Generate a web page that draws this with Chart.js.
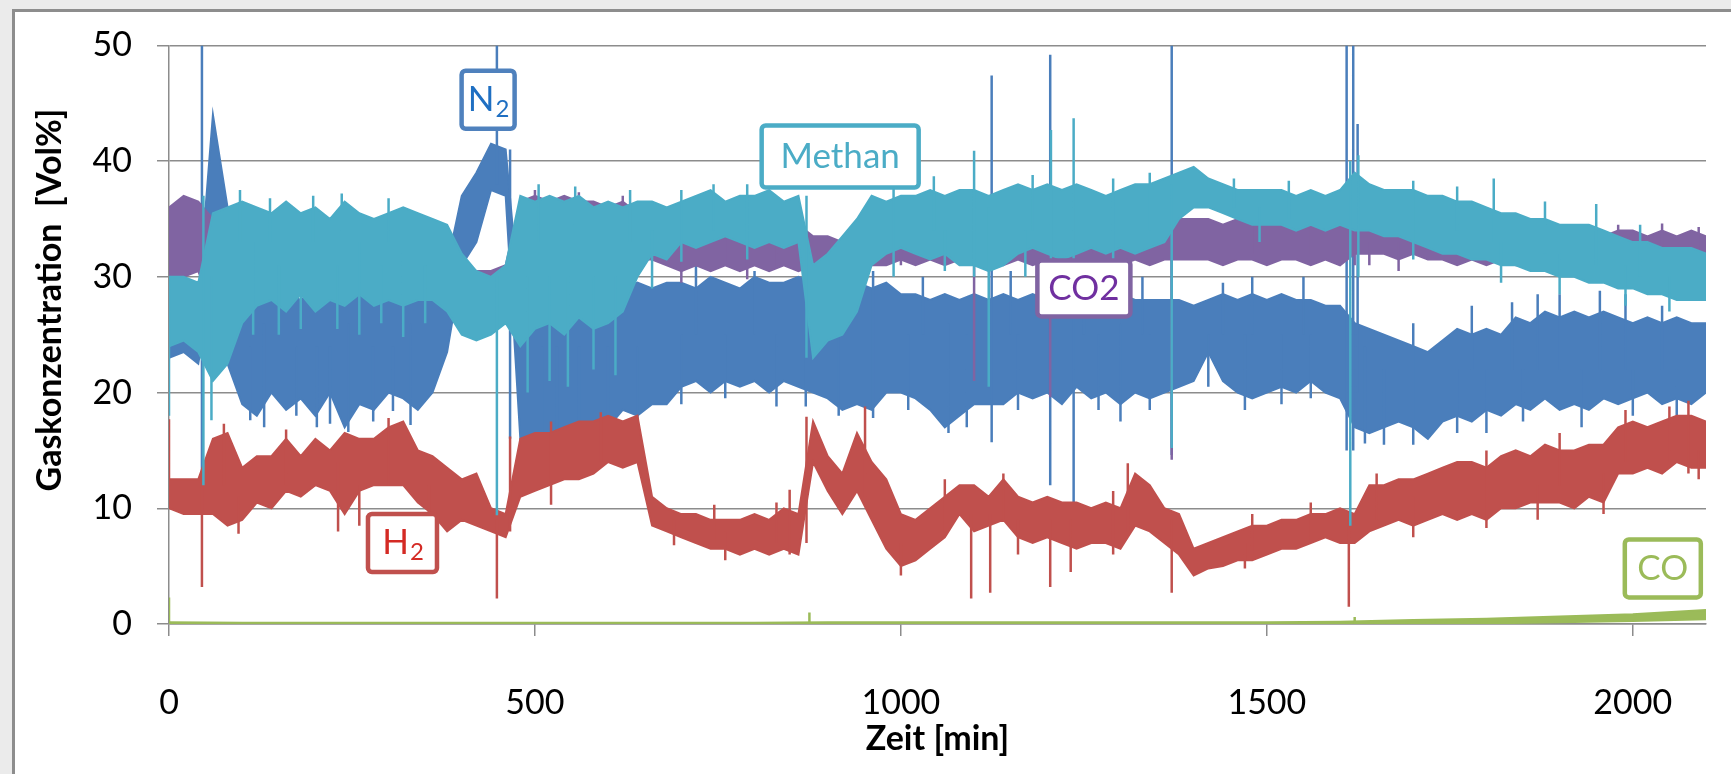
<!DOCTYPE html>
<html lang="de">
<head>
<meta charset="utf-8">
<title>Gaskonzentration</title>
<script src="https://cdn.jsdelivr.net/npm/chart.js@4.4.1/dist/chart.umd.min.js"></script>
<style>
  html, body { margin: 0; padding: 0; background: #ebebeb; overflow: hidden; }
  .frame {
    position: absolute; left: 12px; top: 9px; width: 1760px; height: 800px;
    background: #fff; border-left: 3px solid #8d8d8d; border-top: 3px solid #8d8d8d;
  }
  #gasChart { position: absolute; left: 0; top: 0; }
</style>
</head>
<body>
<div class="frame"></div>
<canvas id="gasChart" width="1731" height="774"></canvas>
<script>
function getElement(id) {
  return document.getElementById(id);
}

// Data, time in min, values in Vol%

const zeit = [
  0, 20, 40, 60, 80, 100, 120, 140, 160, 180,
  200, 220, 240, 260, 280, 300, 320, 340, 360, 380,
  400, 420, 440, 460, 480, 500, 520, 540, 560, 580,
  600, 620, 640, 660, 680, 700, 720, 740, 760, 780,
  800, 820, 840, 860, 880, 900, 920, 940, 960, 980,
  1000, 1020, 1040, 1060, 1080, 1100, 1120, 1140, 1160, 1180,
  1200, 1220, 1240, 1260, 1280, 1300, 1320, 1340, 1360, 1380,
  1400, 1420, 1440, 1460, 1480, 1500, 1520, 1540, 1560, 1580,
  1600, 1620, 1640, 1660, 1680, 1700, 1720, 1740, 1760, 1780,
  1800, 1820, 1840, 1860, 1880, 1900, 1920, 1940, 1960, 1980,
  2000, 2020, 2040, 2060, 2080, 2100,
];

// upper / lower edge of each noisy band
const methanMax = [
  30, 30, 29.5, 35.5, 36, 36.5, 36, 35.5, 36.5, 35.5,
  36, 35, 36.5, 35.5, 35, 35.5, 36, 35.5, 35, 34.5,
  32, 30.5, 30, 31, 37, 36.5, 37, 36.5, 37, 36,
  36.5, 36, 36.5, 36.5, 36, 36.5, 37, 37.5, 36.5, 37,
  37, 37.5, 36.5, 37, 31, 32, 33.5, 35, 37, 36.5,
  37, 37, 37.5, 37, 37.5, 37.5, 37, 37.5, 38, 37.5,
  38, 37.5, 38, 37.5, 37, 37.5, 38, 38, 38.5, 39,
  39.5, 38.5, 38, 37.5, 37.5, 37.5, 37.5, 37, 37.5, 37,
  37.5, 39, 38, 37.5, 37.5, 37.5, 37, 37, 36.5, 36.5,
  36, 35.5, 35.5, 35, 35, 34.5, 34.5, 34.5, 34, 33.5,
  33, 33, 32.5, 32.5, 32.5, 32,
];
const methanMin = [
  24, 24.5, 23.5, 21, 22.5, 26, 27.5, 28, 27, 28.5,
  27, 28, 27.5, 28.5, 27.5, 28, 27.5, 28, 28, 27,
  25, 24.5, 25, 26, 24, 25.5, 26, 25, 26.5, 25.5,
  26, 27, 30, 32, 31.5, 33, 32.5, 33, 33.5, 33,
  32.5, 33, 32.5, 33, 23, 24.5, 25, 27, 31, 32,
  32.5, 32, 31.5, 32, 31, 31, 30.5, 31, 32, 32.5,
  32, 31.5, 32, 32.5, 32, 32.5, 32, 32.5, 33, 35,
  36, 36, 35.5, 35, 34.5, 34.5, 34.5, 34, 34.5, 34,
  34.5, 34, 34, 33.5, 33.5, 33, 32.5, 32, 32, 31.5,
  31.5, 31, 31, 30.5, 30.5, 30, 30, 29.5, 29.5, 29,
  29, 28.5, 28.5, 28, 28, 28,
];

const co2Max = [
  36, 37, 36.5, 35, 35, 34.5, 35, 34.5, 35, 34.5,
  35, 34.5, 34, 34.5, 34.5, 34, 34.5, 34, 34, 33,
  31, 30.5, 30.5, 31, 36.5, 37, 36.5, 37, 36.5, 36.5,
  36, 36.5, 35.5, 34, 34, 34.5, 34, 34.5, 34, 34.5,
  34, 34.5, 34, 34.5, 33.5, 33.5, 33, 33.5, 34, 34.5,
  34, 34.5, 34, 34.5, 34, 35, 34, 34.5, 34, 34.5,
  34.5, 34, 34.5, 34, 34.5, 34, 34.5, 34.5, 34, 35,
  35, 35, 34.5, 35, 34.5, 35, 34.5, 35, 34.5, 35,
  34.5, 36, 35, 34, 33.5, 34, 33.5, 34, 33.5, 34,
  33.5, 34, 33.5, 33.5, 34, 33.5, 34, 34, 33.5, 34,
  34, 33.5, 34, 33.5, 34, 33.5,
];
const co2Min = [
  30, 30, 30.5, 27, 29, 29.5, 30, 29.5, 30, 30,
  29.5, 30, 30, 29.5, 30, 30.5, 30, 29.5, 29, 28,
  27, 26.5, 26, 26.5, 32, 32.5, 32, 32.5, 32, 32.5,
  32, 32, 31.5, 31.5, 31, 30.5, 31, 30.5, 31, 30.5,
  31, 30.5, 31, 30.5, 31, 31, 31.5, 31, 31, 31,
  31.5, 31, 31.5, 31, 31.5, 31, 31.5, 31, 31.5, 31,
  31.5, 31, 31.5, 31, 31.5, 31, 31.5, 31, 31.5, 31.5,
  31.5, 31.5, 31, 31.5, 31.5, 31, 31.5, 31.5, 31, 31.5,
  31, 32, 32, 32, 31.5, 32, 31.5, 31.5, 31, 31.5,
  31, 31.5, 31, 31, 31.5, 31, 31.5, 31, 31.5, 31,
  31.5, 31, 31.5, 31, 31.5, 31,
];

const n2Max = [
  28, 28.5, 28, 44, 36, 28, 29, 28, 28.5, 28,
  29, 28, 29, 28.5, 29, 28, 29, 28.5, 29, 31,
  37, 39, 41.5, 41, 27, 27.5, 27, 28, 27.5, 28.5,
  29, 29, 29.5, 29, 29.5, 29.5, 29, 30, 29.5, 29,
  30, 29.5, 29.5, 30, 29.5, 29, 30, 29.5, 29, 29.5,
  28.5, 28.5, 28, 28.5, 28, 28.5, 28, 28.5, 28, 28.5,
  28, 28.5, 28, 28.5, 28, 28.5, 28, 28, 28, 28,
  27.5, 28, 28.5, 28, 28.5, 28, 28.5, 28, 28, 27.5,
  27.5, 26, 25.5, 25, 24.5, 24, 23.5, 24.5, 25.5, 25,
  25.5, 25, 26.5, 26, 27, 26.5, 27, 26.5, 27, 26.5,
  26, 26.5, 26, 26.5, 26, 26,
];
const n2Min = [
  23, 23.5, 22.5, 30, 22.5, 19, 18, 20, 18.5, 19.5,
  18, 20, 17, 19, 18.5, 20, 19.5, 18.5, 20, 23.5,
  31, 33, 37.5, 37, 16, 16.5, 16, 17, 16.5, 17.5,
  17, 18.5, 18, 19, 19, 20.5, 21, 20, 21, 20.5,
  21, 20, 21, 20.5, 20, 19.5, 18.5, 19, 18.5, 20,
  20, 19.5, 18.5, 17, 18, 19, 19, 19, 20, 19.5,
  20, 19, 20.5, 19.5, 20, 19, 20, 19.5, 20, 20.5,
  21, 23.5, 21, 20, 19.5, 20, 20.5, 20, 21, 20,
  19.5, 17, 16.5, 17, 17.5, 17, 16, 17.5, 18, 17.5,
  18.5, 18, 19, 18.5, 19.5, 18.5, 19, 18.5, 19.5, 19,
  19.5, 20, 19, 19.5, 19, 20,
];

const h2Max = [
  12.5, 12.5, 12.5, 16, 16.5, 13.5, 14.5, 14.5, 16, 14.5,
  16, 15, 16.5, 16, 16, 17, 17.5, 15, 14.5, 13.5,
  12.5, 13, 10, 9.5, 16, 16.5, 16.5, 17, 17.5, 17.5,
  18, 17.5, 18, 11, 10, 9.5, 9.5, 9, 9, 9,
  9.5, 9, 10, 9.5, 17.5, 14.5, 13, 16.5, 14, 12.5,
  9.5, 9, 10, 11, 12, 12, 11, 12.5, 11, 10.5,
  11, 10.5, 10.5, 10, 10.5, 10, 13, 12, 10, 9.5,
  6.5, 7, 7.5, 8, 8.5, 8.5, 9, 9, 9.5, 9.5,
  10, 9.5, 12, 12, 12.5, 12.5, 13, 13.5, 14, 14,
  13.5, 14.5, 15, 14.5, 15.5, 15, 15, 15.5, 15.5, 17,
  17.5, 17, 17.5, 18, 18, 17.5,
];
const h2Min = [
  10, 9.5, 9.5, 9.5, 8.5, 9, 10.5, 10, 11.5, 11,
  12, 11.5, 9.5, 11.5, 12, 12, 12, 10.5, 9.5, 8,
  9, 8.5, 8, 7.5, 11, 11.5, 12, 12.5, 12.5, 13,
  14, 13.5, 14, 8.5, 8, 7.5, 7, 6.5, 6.5, 6,
  6.5, 6, 6.5, 6, 14, 11.5, 9.5, 11.5, 9, 6.5,
  5, 5.5, 6.5, 7.5, 9.5, 8, 8.5, 9, 7.5, 7,
  7.5, 7, 6.5, 7, 7, 6.5, 8.5, 8, 7, 6,
  4.2, 4.8, 5, 5.5, 5.5, 6, 6.5, 6.5, 7, 7.5,
  7, 7, 8, 8.5, 9, 8.5, 9, 9.5, 9, 9.5,
  9, 10, 10, 10.5, 10.5, 10.5, 10, 11, 10.5, 13,
  13, 13.5, 13, 14, 13.5, 13.5,
];

const coZeit = [
  0, 100, 200, 300, 400, 500, 600, 700, 800, 900, 1000,
  1100, 1200, 1300, 1400, 1500, 1600, 1700, 1800, 1900, 2000, 2100,
];
const coMax = [
  0.15, 0.1, 0.1, 0.1, 0.1, 0.1, 0.1, 0.1, 0.1, 0.15, 0.15,
  0.15, 0.15, 0.15, 0.15, 0.15, 0.2, 0.35, 0.45, 0.65, 0.85, 1.2,
];
const coMin = [
  -0.15, -0.15, -0.15, -0.15, -0.15, -0.15, -0.15, -0.15, -0.15, -0.1, -0.1,
  -0.1, -0.1, -0.1, -0.1, -0.1, -0.1, 0, 0.05, 0.15, 0.25, 0.4,
];

// single outliers / needles: time, from, to
const methanSpikeZeit = [
  0, 47, 58, 97, 115, 138, 150, 180, 197, 230,
  236, 260, 290, 300, 320, 350, 448, 490, 505, 520,
  545, 555, 580, 610, 630, 660, 700, 744, 790, 871,
  990, 1045, 1060, 1100, 1120, 1170, 1180, 1205, 1236, 1290,
  1340, 1370, 1455, 1490, 1530, 1614, 1625, 1700, 1760, 1810,
  1820, 1880, 1900, 1950, 1990, 2010, 2050,
];
const methanSpikeVon = [
  18, 12, 17.6, 33, 25, 33, 25, 25.5, 33, 25.5,
  33, 25, 26, 33, 24.8, 26, 9.4, 20, 33, 21,
  20.5, 33, 22, 21.5, 33, 29, 31.3, 34, 31.5, 23,
  30, 34, 30.5, 30, 20.5, 30, 34, 30, 30, 30.5,
  34, 15.2, 36, 33, 35, 8.5, 30, 31.5, 34, 33,
  29.5, 32, 28.5, 31, 27.5, 30, 27,
];
const methanSpikeBis = [
  30, 37, 30, 37.5, 33, 36.8, 31, 33, 37, 31,
  37.2, 33, 31, 36.8, 33, 31, 30, 30, 38, 30,
  30, 37.8, 30, 30, 37.5, 34, 37.5, 38, 38, 37,
  38.5, 38.7, 34, 40.9, 36, 34, 38.8, 42.7, 43.7, 38.5,
  39, 38, 38.5, 36, 38.3, 40, 40.5, 38.3, 37.8, 38.5,
  33, 36.5, 32, 36.3, 31, 34.5, 30,
];

const co2SpikeZeit = [500, 560, 620, 700, 760, 790, 830, 1000, 1100, 1150, 1204, 1260, 1330, 1370, 1480, 1560, 1620, 1640, 1680, 1980, 2040, 2090];
const co2SpikeVon = [33, 33, 33, 29.5, 31, 29.8, 31, 31, 21, 32, 19.6, 32, 32, 14.2, 32, 32, 31, 31, 30.5, 32, 32, 32];
const co2SpikeBis = [37.5, 37.3, 37, 35, 35.2, 32, 35, 35, 35.3, 35.2, 32, 35, 35.2, 33, 35.5, 35.5, 36.3, 33, 33, 34.5, 34.6, 34.3];

const n2SpikeZeit = [
  45, 111, 130, 174, 202, 220, 245, 279, 306, 330,
  448, 466, 510, 530, 560, 600, 640, 700, 720, 760,
  800, 830, 870, 900, 915, 962, 1010, 1030, 1065, 1090,
  1124, 1150, 1160, 1204, 1236, 1250, 1270, 1300, 1330, 1340,
  1370, 1420, 1440, 1470, 1480, 1520, 1550, 1560, 1609, 1618,
  1624, 1634, 1660, 1700, 1760, 1780, 1800, 1835, 1850, 1870,
  1900, 1930, 1955, 1990, 2000, 2040, 2060,
];
const n2SpikeVon = [
  12, 17.6, 17, 18, 17, 17.3, 16.6, 17.5, 18.4, 17.2,
  38, 16, 15.4, 15.2, 15.5, 16, 16.8, 19, 25, 19.5,
  25, 18.8, 18.8, 25, 18, 17.8, 18.5, 25, 16.5, 17,
  15.7, 25, 18.5, 12, 10, 25, 18.5, 17.5, 25, 18.5,
  14.6, 20.5, 25, 18.5, 25, 19, 25, 19.5, 15, 15,
  20, 15.6, 15.5, 15.5, 16.5, 22, 16.5, 22, 17.5, 22,
  22, 17, 22, 22, 18, 22, 18,
];
const n2SpikeBis = [
  50, 24, 26, 24, 24, 24, 26, 24, 24, 26,
  50, 41, 24, 24, 24, 24, 24, 25, 31, 25,
  30.5, 25, 25, 31, 26, 30.5, 25, 30, 26, 25,
  47.4, 30.5, 25, 49.2, 28, 29.5, 25, 26, 30, 25,
  50, 25, 29.5, 25, 30, 25, 30, 25, 50, 50,
  43.2, 24, 22, 26, 22, 27.5, 22, 27.8, 22, 28.5,
  28.5, 22, 28.8, 28.5, 22, 27.5, 22,
];

const h2SpikeZeit = [
  0, 45, 75, 95, 160, 231, 260, 300, 355, 448,
  466, 522, 590, 690, 745, 760, 830, 848, 871, 951,
  1000, 1060, 1096, 1122, 1140, 1160, 1204, 1232, 1290, 1310,
  1370, 1470, 1480, 1560, 1612, 1650, 1700, 1800, 1870, 1900,
  1960, 1990, 2050, 2076, 2090,
];
const h2SpikeVon = [
  10, 3.2, 12, 7.8, 12, 8, 8.5, 12, 8, 2.2,
  8, 10.3, 14, 6.8, 7, 5.5, 7, 6, 7, 11,
  4.2, 8, 2.2, 2.7, 9, 6, 3.2, 4.5, 6, 8,
  2.7, 4.8, 6, 7, 1.5, 9, 7.5, 8.3, 9, 12,
  9.5, 14, 14, 13, 12.5,
];
const h2SpikeBis = [
  17.7, 12, 17.3, 11, 16.8, 14, 12, 17.8, 12, 9,
  16.2, 17.5, 18.3, 9, 10.3, 8, 10.5, 11.6, 17.9, 18.8,
  7, 12.5, 9.5, 9.5, 13, 9, 9, 9, 11.5, 13.9,
  9, 7, 9.5, 10.5, 9, 13, 11, 15, 12, 16.5,
  13, 18.5, 18.8, 19.3, 15,
];

const coSpikeZeit = [0, 875, 1620];
const coSpikeVon = [0, 0, 0];
const coSpikeBis = [2.3, 1.0, 0.6];

const xTicks = [0, 500, 1000, 1500, 2000];
const yTicks = [0, 10, 20, 30, 40, 50];

// Helpers

function toPoints(t, v) {
  return t.map((x, i) => ({ x: x, y: v[i] }));
}

function toSpikes(t, von, bis) {
  let pts = [];
  for (let i = 0; i < t.length; i++) {
    pts.push({ x: t[i], y: von[i] }, { x: t[i], y: bis[i] }, { x: t[i], y: null });
  }
  return pts;
}

function gasSets(color, t, max, min, sT, sVon, sBis) {
  return [
    { data: toSpikes(sT, sVon, sBis), borderColor: color, borderWidth: 2.5, spanGaps: false },
    { data: toPoints(t, max), borderColor: color, borderWidth: 2 },
    { data: toPoints(t, min), borderColor: color, borderWidth: 2, backgroundColor: color, fill: "-1" },
  ];
}

// Label boxes on the chart

const labelBoxes = [
  { text: "N", sub: "2", x: 436, y: 45.3, w: 53, h: 58, border: "#4f81bd", color: "#1f6fc2" },
  { text: "Methan", x: 917, y: 40.4, w: 157, h: 62, border: "#4bacc6", color: "#4bacc6" },
  { text: "CO2", x: 1250, y: 29.0, w: 93, h: 56, border: "#8064a2", color: "#7030a0" },
  { text: "H", sub: "2", x: 319, y: 7.0, w: 69, h: 58, border: "#c0504d", color: "#d42a24" },
  { text: "CO", x: 2041, y: 4.8, w: 76, h: 58, border: "#9bbb59", color: "#9bbb59" },
];

const labelPlugin = {
  id: "labelBoxes",
  afterDraw(chart) {
    const c = chart.ctx;
    const xs = chart.scales.x;
    const ys = chart.scales.y;
    c.save();
    labelBoxes.forEach((b) => {
      const cx = xs.getPixelForValue(b.x);
      const cy = ys.getPixelForValue(b.y);
      c.beginPath();
      c.roundRect(cx - b.w / 2, cy - b.h / 2, b.w, b.h, 4);
      c.fillStyle = "#fff";
      c.fill();
      c.lineWidth = 4.5;
      c.strokeStyle = b.border;
      c.stroke();

      c.fillStyle = b.color;
      c.textBaseline = "middle";
      c.textAlign = "left";
      c.font = "35px Lato";
      const wMain = c.measureText(b.text).width;
      let wSub = 0;
      if (b.sub) {
        c.font = "24px Lato";
        wSub = c.measureText(b.sub).width;
      }
      const start = cx - (wMain + wSub) / 2;
      c.font = "35px Lato";
      c.fillText(b.text, start, cy);
      if (b.sub) {
        c.font = "24px Lato";
        c.fillText(b.sub, start + wMain + 1, cy + 9);
      }
    });

    // y axis title
    c.translate(50, 300);
    c.rotate(-Math.PI / 2);
    c.textAlign = "center";
    c.textBaseline = "middle";
    c.fillStyle = "#000";
    c.font = "bold 34px Lato";
    c.fillText("Gaskonzentration  [Vol%]", 0, 0);
    c.restore();
  },
};

// Chart

Chart.defaults.font.family = "Lato";

const gridColor = "#8c8c8c";

new Chart(getElement("gasChart"), {
  type: "line",
  data: {
    datasets: [
      ...gasSets("#4bacc6", zeit, methanMax, methanMin, methanSpikeZeit, methanSpikeVon, methanSpikeBis),
      ...gasSets("#8064a2", zeit, co2Max, co2Min, co2SpikeZeit, co2SpikeVon, co2SpikeBis),
      ...gasSets("#c0504d", zeit, h2Max, h2Min, h2SpikeZeit, h2SpikeVon, h2SpikeBis),
      ...gasSets("#4a7ebb", zeit, n2Max, n2Min, n2SpikeZeit, n2SpikeVon, n2SpikeBis),
      ...gasSets("#9bbb59", coZeit, coMax, coMin, coSpikeZeit, coSpikeVon, coSpikeBis),
    ],
  },
  options: {
    responsive: false,
    animation: false,
    devicePixelRatio: 1,
    layout: { padding: { top: 42, right: 25, left: 0, bottom: 0 } },
    elements: {
      point: { radius: 0 },
      line: { tension: 0, fill: false },
    },
    plugins: {
      legend: { display: false },
      tooltip: { enabled: false },
    },
    scales: {
      x: {
        type: "linear",
        min: 0,
        max: 2100,
        afterFit: (s) => { s.height = 150; },
        afterBuildTicks: (s) => { s.ticks = xTicks.map((v) => ({ value: v })); },
        grid: { drawOnChartArea: false, tickLength: 12, color: gridColor, lineWidth: 1.5 },
        border: { color: gridColor, width: 1.5 },
        ticks: {
          color: "#000",
          font: { size: 34 },
          padding: 47,
          maxRotation: 0,
          callback: (v) => String(v),
        },
        title: {
          display: true,
          text: "Zeit [min]",
          color: "#000",
          font: { size: 34, weight: "bold" },
          padding: { top: 0, bottom: 15 },
        },
      },
      y: {
        min: 0,
        max: 50,
        afterFit: (s) => { s.width = 169; },
        afterBuildTicks: (s) => { s.ticks = yTicks.map((v) => ({ value: v })); },
        grid: { color: gridColor, lineWidth: 1.5, tickLength: 12 },
        border: { color: gridColor, width: 1.5 },
        ticks: { color: "#000", font: { size: 34 }, padding: 25, callback: (v) => String(v) },
      },
    },
  },
  plugins: [labelPlugin],
});
</script>
</body>
</html>
